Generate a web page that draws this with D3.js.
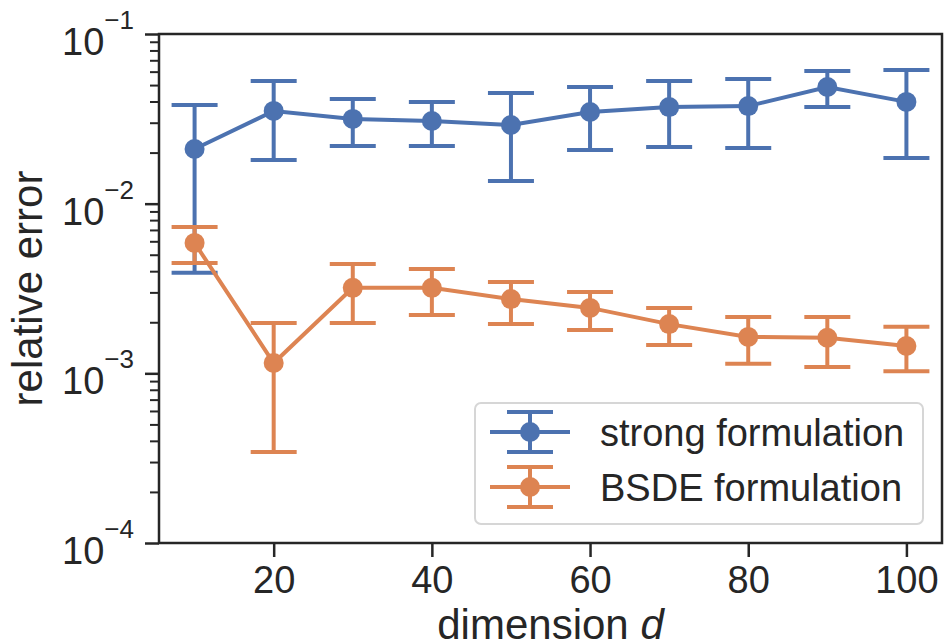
<!DOCTYPE html>
<html>
<head>
<meta charset="utf-8">
<script src="https://cdn.jsdelivr.net/npm/d3@7"></script>
<style>
  body { margin: 0; background: #fff; }
  text { font-family: "Liberation Sans", Arial, sans-serif; fill: #262626; }
</style>
</head>
<body>
<div id="chart"></div>
<script>
// dimensions d
const dims = [10, 20, 30, 40, 50, 60, 70, 80, 90, 100];

// strong formulation: mean and error bar ends
const strongMean = [0.0210, 0.0352, 0.0316, 0.0307, 0.0291, 0.0347, 0.0371, 0.0376, 0.0487, 0.0398];
const strongLow  = [0.00391, 0.0181, 0.0219, 0.0219, 0.0136, 0.0207, 0.0216, 0.0213, 0.0371, 0.0186];
const strongHigh = [0.0382, 0.0528, 0.0414, 0.0398, 0.0449, 0.0487, 0.0528, 0.0543, 0.0605, 0.0614];

// BSDE formulation
const bsdeMean = [0.00587, 0.00115, 0.00319, 0.00319, 0.00274, 0.00243, 0.00195, 0.00164, 0.00162, 0.00145];
const bsdeLow  = [0.00447, 0.000344, 0.00198, 0.00221, 0.00195, 0.00180, 0.00147, 0.00114, 0.00109, 0.00103];
const bsdeHigh = [0.00729, 0.00198, 0.00441, 0.00412, 0.00345, 0.00302, 0.00243, 0.00215, 0.00215, 0.00188];

const xTicks = [20, 40, 60, 80, 100];
const yTicks = [1e-1, 1e-2, 1e-3, 1e-4];
const yTickExp = ["\u22121", "\u22122", "\u22123", "\u22124"];

const seriesNames = ["strong formulation", "BSDE formulation"];
const colors = ["#4C72B0", "#DD8452"];

const W = 945, H = 643;
const margin = {top: 34, right: 3, bottom: 100, left: 159};
const width = W - margin.left - margin.right,
      height = H - margin.top - margin.bottom;
const ink = "#262626";
const lw = 4;

const svg = d3.select("#chart").append("svg")
  .attr("width", W)
  .attr("height", H);

const g = svg.append("g")
  .attr("transform", "translate(" + margin.left + "," + margin.top + ")");

let x = d3.scaleLinear()
  .domain([5.5, 104.5])
  .range([0, width]);

let y = d3.scaleLog()
  .domain([1e-4, 1e-1])
  .range([height, 0]);

// x axis ticks
g.append("g")
  .attr("transform", "translate(0," + height + ")")
  .call(d3.axisBottom(x).tickValues(xTicks).tickSize(14).tickPadding(9).tickFormat(d3.format("d")))
  .call(a => a.select(".domain").remove())
  .call(a => a.selectAll("line").attr("stroke", ink).attr("stroke-width", 2.5))
  .call(a => a.selectAll("text").attr("font-size", 38).attr("fill", ink)
    .attr("font-family", "Liberation Sans, Arial, sans-serif"));

// y minor ticks
let minor = [];
for (let e = -4; e < -1; e++) {
  for (let m = 2; m <= 9; m++) minor.push(m * Math.pow(10, e));
}
g.append("g")
  .call(d3.axisLeft(y).tickValues(minor).tickSize(9).tickFormat(""))
  .call(a => a.select(".domain").remove())
  .call(a => a.selectAll("line").attr("stroke", ink).attr("stroke-width", 2));

// y major ticks
g.append("g")
  .call(d3.axisLeft(y).tickValues(yTicks).tickSize(14).tickFormat(""))
  .call(a => a.select(".domain").remove())
  .call(a => a.selectAll("line").attr("stroke", ink).attr("stroke-width", 2.5));

// y tick labels 10^n
yTicks.forEach((v, i) => {
  const t = g.append("text")
    .attr("x", -25)
    .attr("y", y(v) + 21)
    .attr("text-anchor", "end")
    .attr("font-size", 38);
  t.append("tspan").text("10");
  t.append("tspan")
    .attr("font-size", 26)
    .attr("dy", -26)
    .text(yTickExp[i]);
});

// error bars + lines + markers
const series = [
  {mean: strongMean, low: strongLow, high: strongHigh},
  {mean: bsdeMean, low: bsdeLow, high: bsdeHigh}
];
const capW = 23;

series.forEach((s, k) => {
  const col = colors[k];
  const sg = g.append("g");
  const pts = dims.map((d, i) => ({d: d, m: s.mean[i], lo: s.low[i], hi: s.high[i]}));

  sg.append("path")
    .datum(pts)
    .attr("fill", "none")
    .attr("stroke", col)
    .attr("stroke-width", lw)
    .attr("d", d3.line().x(p => x(p.d)).y(p => y(p.m)));

  sg.selectAll(".bar").data(pts).enter().append("line")
    .attr("x1", p => x(p.d)).attr("x2", p => x(p.d))
    .attr("y1", p => y(p.lo)).attr("y2", p => y(p.hi))
    .attr("stroke", col).attr("stroke-width", lw);

  ["lo", "hi"].forEach(key => {
    sg.selectAll(".cap-" + key).data(pts).enter().append("line")
      .attr("x1", p => x(p.d) - capW).attr("x2", p => x(p.d) + capW)
      .attr("y1", p => y(p[key])).attr("y2", p => y(p[key]))
      .attr("stroke", col).attr("stroke-width", lw);
  });

  sg.selectAll("circle").data(pts).enter().append("circle")
    .attr("cx", p => x(p.d))
    .attr("cy", p => y(p.m))
    .attr("r", 10)
    .attr("fill", col);
});

// frame
g.append("rect")
  .attr("width", width)
  .attr("height", height)
  .attr("fill", "none")
  .attr("stroke", ink)
  .attr("stroke-width", 2.5);

// axis labels
const xl = g.append("text")
  .attr("x", width / 2)
  .attr("y", height + 96)
  .attr("text-anchor", "middle")
  .attr("font-size", 42);
xl.append("tspan").text("dimension ");
xl.append("tspan").attr("font-style", "italic").text("d");

g.append("text")
  .attr("transform", "translate(" + (-117) + "," + (height / 2) + ") rotate(-90)")
  .attr("text-anchor", "middle")
  .attr("font-size", 42)
  .text("relative error");

// legend
const lg = svg.append("g").attr("transform", "translate(475,403)");
lg.append("rect")
  .attr("width", 448)
  .attr("height", 121)
  .attr("rx", 6)
  .attr("fill", "white")
  .attr("fill-opacity", 0.8)
  .attr("stroke", "#d6d6d6")
  .attr("stroke-width", 2);

seriesNames.forEach((name, i) => {
  const cy = 29 + i * 55;
  const col = colors[i];
  const h = lg.append("g");
  h.append("line").attr("x1", 15).attr("x2", 95).attr("y1", cy).attr("y2", cy)
    .attr("stroke", col).attr("stroke-width", lw);
  h.append("line").attr("x1", 55).attr("x2", 55).attr("y1", cy - 20).attr("y2", cy + 20)
    .attr("stroke", col).attr("stroke-width", lw);
  [-20, 20].forEach(o => {
    h.append("line").attr("x1", 55 - capW).attr("x2", 55 + capW)
      .attr("y1", cy + o).attr("y2", cy + o)
      .attr("stroke", col).attr("stroke-width", lw);
  });
  h.append("circle").attr("cx", 55).attr("cy", cy).attr("r", 10).attr("fill", col);
  lg.append("text")
    .attr("x", 125)
    .attr("y", cy + 14)
    .attr("font-size", 38)
    .text(name);
});
</script>
</body>
</html>
